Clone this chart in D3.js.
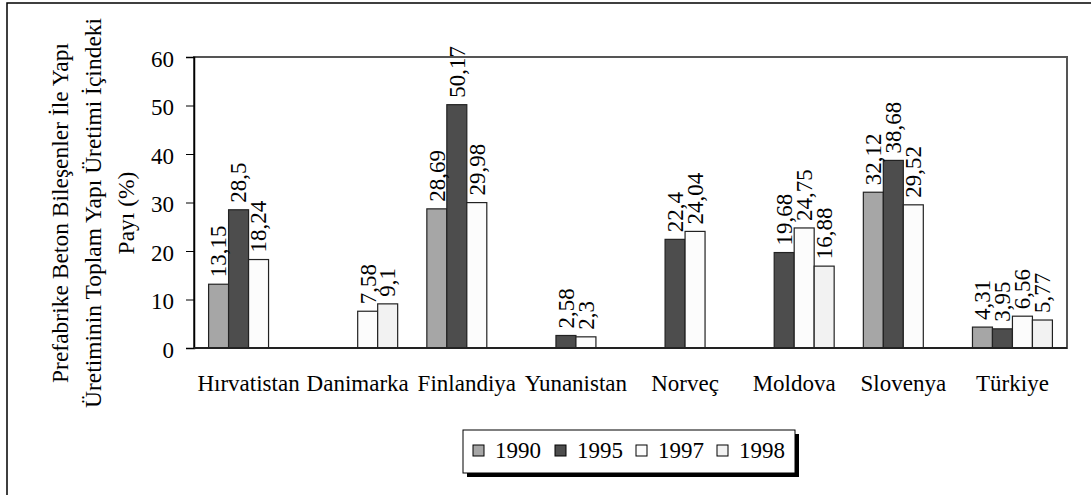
<!DOCTYPE html>
<html>
<head>
<meta charset="utf-8">
<script src="https://cdn.jsdelivr.net/npm/d3@7"></script>
<style>
	body { margin: 0; background: #fff; }
</style>
</head>
<body>
<div id="chart"></div>
<script>
// share of precast concrete in total building production, per country and year

var categories = ['Hırvatistan', 'Danimarka', 'Finlandiya', 'Yunanistan', 'Norveç', 'Moldova', 'Slovenya', 'Türkiye'];
var years = ['1990', '1995', '1997', '1998'];
var v1990 = [13.15, null, 28.69, null, null, null, 32.12, 4.31];
var v1995 = [28.5, null, 50.17, 2.58, 22.4, 19.68, 38.68, 3.95];
var v1997 = [18.24, 7.58, 29.98, 2.3, 24.04, 24.75, 29.52, 6.56];
var v1998 = [null, 9.1, null, null, null, 16.88, null, 5.77];
var yTicks = [0, 10, 20, 30, 40, 50, 60];
var titleLines = ['Prefabrike Beton Bileşenler İle Yapı', 'Üretiminin Toplam Yapı Üretimi İçindeki', 'Payı (%)'];

var seriesValues = [v1990, v1995, v1997, v1998];
var colors = ['#a6a6a6', '#4d4d4d', '#fcfcfc', '#f2f2f2'];

var width = 1091;
var height = 495;
var plot = { left: 194, right: 1067, top: 57, bottom: 348 };
var fontSize = 23;
var serif = '"Liberation Serif", "Times New Roman", serif';

var svg = d3.select('#chart')
	.append('svg')
		.attr('width', width)
		.attr('height', height)
		.style('font-family', serif);

// outer chart frame (runs off the right and bottom edges)
svg.append('rect')
	.attr('x', 7)
	.attr('y', 3)
	.attr('width', 1200)
	.attr('height', 600)
	.attr('fill', 'none')
	.attr('stroke', '#000')
	.attr('stroke-width', 1.5);

var x0 = d3.scaleBand()
	.domain(categories)
	.range([plot.left, plot.right])
	.padding(0);

var x1 = d3.scaleBand()
	.domain(years)
	.range([0, x0.bandwidth()])
	.paddingInner(0)
	.paddingOuter(0.73);

var y = d3.scaleLinear()
	.domain([0, 60])
	.range([plot.bottom, plot.top]);

// plot area border
svg.append('rect')
	.attr('x', plot.left)
	.attr('y', plot.top)
	.attr('width', plot.right - plot.left)
	.attr('height', plot.bottom - plot.top)
	.attr('fill', 'none')
	.attr('stroke', '#555')
	.attr('stroke-width', 2);

// bars, one group per year
var bars = [];
seriesValues.forEach(function(vals, s)
{
	vals.forEach(function(v, i)
	{
		if (v !== null) bars.push({ cat: categories[i], year: years[s], s: s, value: v });
	});
});

svg.append('g').selectAll('rect')
	.data(bars)
	.enter().append('rect')
		.attr('x', function(d) { return x0(d.cat) + x1(d.year); })
		.attr('y', function(d) { return y(d.value); })
		.attr('width', x1.bandwidth())
		.attr('height', function(d) { return y(0) - y(d.value); })
		.attr('fill', function(d) { return colors[d.s]; })
		.attr('stroke', '#222')
		.attr('stroke-width', 1.2);

// rotated value labels above the bars
svg.append('g').selectAll('text')
	.data(bars)
	.enter().append('text')
		.attr('transform', function(d) {
			var cx = x0(d.cat) + x1(d.year) + x1.bandwidth() / 2;
			return 'translate(' + cx + ',' + (y(d.value) - 7) + ') rotate(-90)';
		})
		.attr('dy', '0.34em')
		.attr('text-anchor', 'start')
		.style('font-family', serif)
		.style('font-size', fontSize + 'px')
		.text(function(d) { return String(d.value).replace('.', ','); });

// y axis
var yAxis = svg.append('g')
	.attr('transform', 'translate(' + plot.left + ',0)')
	.call(d3.axisLeft(y).tickValues(yTicks).tickSize(8).tickPadding(12));
yAxis.attr('font-family', null).attr('font-size', null);
yAxis.select('.domain').attr('stroke', '#000').attr('stroke-width', 1.5);
yAxis.selectAll('.tick line').attr('stroke', '#000');
yAxis.selectAll('.tick text')
	.attr('dy', '0.4em')
	.style('font-family', serif)
	.style('font-size', fontSize + 'px');

// x axis line and category labels
svg.append('line')
	.attr('x1', plot.left)
	.attr('x2', plot.right)
	.attr('y1', plot.bottom)
	.attr('y2', plot.bottom)
	.attr('stroke', '#222')
	.attr('stroke-width', 2);

svg.append('g').selectAll('text')
	.data(categories)
	.enter().append('text')
		.attr('x', function(d) { return x0(d) + x0.bandwidth() / 2; })
		.attr('y', 391)
		.attr('text-anchor', 'middle')
		.style('font-family', serif)
		.style('font-size', fontSize + 'px')
		.text(function(d) { return d; });

// y axis title, three lines
svg.append('g').selectAll('text')
	.data(titleLines)
	.enter().append('text')
		.attr('transform', function(d, i) { return 'translate(' + (68 + i * 33) + ',213) rotate(-90)'; })
		.attr('text-anchor', 'middle')
		.style('font-family', serif)
		.style('font-size', '23.5px')
		.text(function(d) { return d; });

// legend box with shadow
var legend = svg.append('g').attr('transform', 'translate(463,430)');
legend.append('rect')
	.attr('x', 4)
	.attr('y', 4)
	.attr('width', 332)
	.attr('height', 43)
	.attr('fill', '#000');
legend.append('rect')
	.attr('width', 332)
	.attr('height', 43)
	.attr('fill', '#fff')
	.attr('stroke', '#000')
	.attr('stroke-width', 1);

var legendX = [10, 92, 173, 254];
years.forEach(function(yr, i)
{
	legend.append('rect')
		.attr('x', legendX[i])
		.attr('y', 15)
		.attr('width', 11)
		.attr('height', 11)
		.attr('fill', colors[i])
		.attr('stroke', '#000')
		.attr('stroke-width', 1);
	legend.append('text')
		.attr('x', legendX[i] + 22)
		.attr('y', 28)
		.style('font-family', serif)
		.style('font-size', fontSize + 'px')
		.text(yr);
});
</script>
</body>
</html>
